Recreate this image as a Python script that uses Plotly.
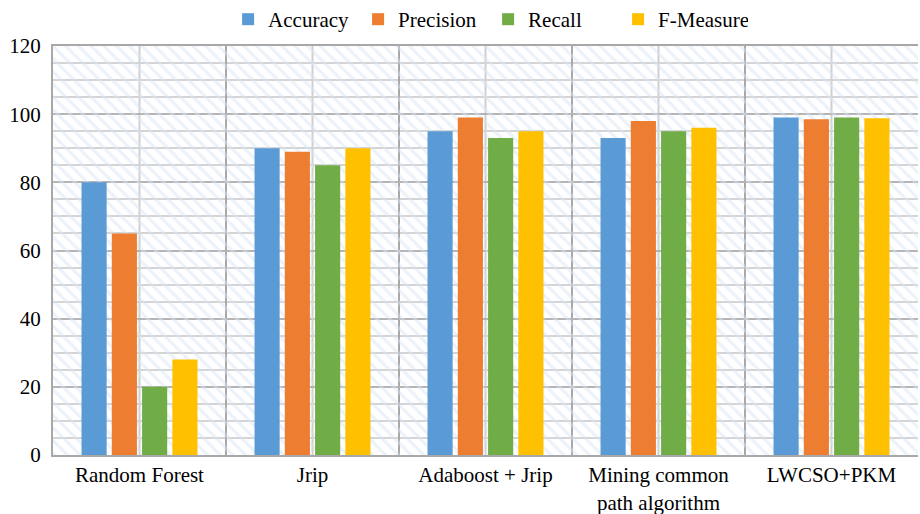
import plotly.graph_objects as go

categories = ["Random Forest", "Jrip", "Adaboost + Jrip",
              "Mining common<br>path algorithm", "LWCSO+PKM"]
accuracy = [80, 90, 95, 93, 99]
precision = [65, 89, 99, 98, 98.5]
recall = [20, 85, 93, 95, 99]
f_measure = [28, 90, 95, 96, 98.8]

series_names = ["Accuracy", "Precision", "Recall", "F-Measure"]
series_colors = ["#5B9BD5", "#ED7D31", "#70AD47", "#FFC000"]
series_values = [accuracy, precision, recall, f_measure]

FONT = "Liberation Serif, Times New Roman, serif"

fig = go.Figure()

# hatched plot-area background on a hidden base axis pair
fig.add_trace(go.Scatter(
    x=[0, 1, 1, 0, 0], y=[0, 0, 1, 1, 0],
    xaxis="x", yaxis="y", mode="none", fill="toself",
    fillcolor="rgba(0,0,0,0)",
    fillpattern=dict(shape="\\", fgcolor="#D8E6F6", bgcolor="rgba(255,255,255,0)",
                     size=9, solidity=0.35),
    hoverinfo="skip", showlegend=False,
))

for name, color, vals in zip(series_names, series_colors, series_values):
    fig.add_trace(go.Bar(
        x=categories, y=vals, name=name, marker=dict(color=color, line=dict(width=0)),
        xaxis="x2", yaxis="y2",
    ))

# lighter vertical lines through each category centre
for c in categories:
    fig.add_shape(type="line", xref="x2", yref="paper", x0=c, x1=c, y0=0, y1=1,
                  line=dict(color="#CFCFCF", width=2), layer="below")

fig.update_layout(
    width=920, height=514,
    margin=dict(l=53, r=2, t=46, b=59, autoexpand=False),
    paper_bgcolor="white", plot_bgcolor="white",
    barmode="group", bargap=0.3, bargroupgap=0.17,
    font=dict(family=FONT, size=21, color="black"),
    legend=dict(orientation="h", x=0.503, xanchor="center",
                yref="container", y=0.962, yanchor="middle",
                font=dict(family=FONT, size=21), itemwidth=30,
                entrywidth=85, entrywidthmode="pixels",
                traceorder="normal", tracegroupgap=0),
    xaxis=dict(range=[0, 1], visible=False, fixedrange=True),
    yaxis=dict(range=[0, 1], visible=False, fixedrange=True),
    xaxis2=dict(overlaying="x", anchor="y2", type="category",
                tickson="boundaries", showgrid=True, gridcolor="#A8A8A8", gridwidth=2,
                showline=True, linecolor="#A8A8A8", linewidth=2, mirror=True,
                ticks="", tickfont=dict(family=FONT, size=21, color="black")),
    yaxis2=dict(overlaying="y", anchor="x2", range=[0, 120], dtick=20,
                showgrid=True, gridcolor="#B4B4B4", gridwidth=2,
                minor=dict(dtick=5, showgrid=True, gridcolor="#D4D4D4", gridwidth=2),
                showline=True, linecolor="#A8A8A8", linewidth=2,
                ticks="", ticklabelstandoff=6,
                tickfont=dict(family=FONT, size=21, color="black"),
                zeroline=False),
)

fig.write_html("out.html")
